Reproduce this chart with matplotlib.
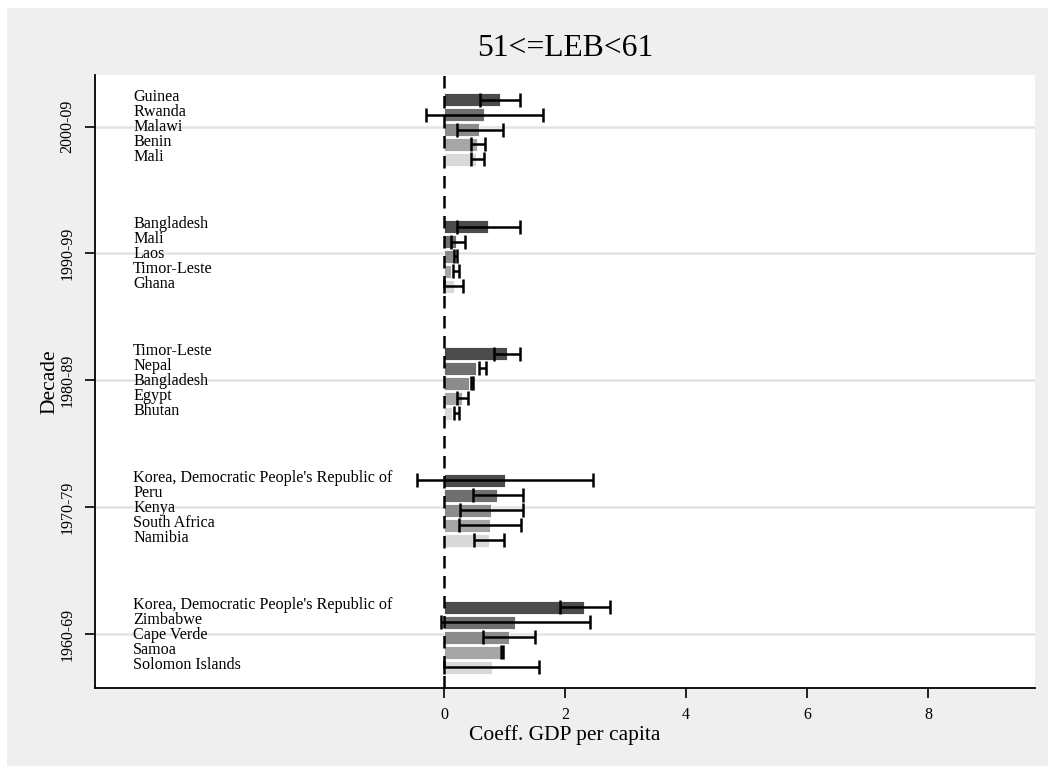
import matplotlib
matplotlib.use("Agg")
import matplotlib.pyplot as plt
import numpy as np
from matplotlib.patches import Rectangle

plt.rcParams["font.family"] = ["Liberation Serif", "DejaVu Serif"]

# decades, bottom to top
decades = ["1960-69", "1970-79", "1980-89", "1990-99", "2000-09"]

countries_1960 = ["Korea, Democratic People's Republic of", "Zimbabwe", "Cape Verde", "Samoa", "Solomon Islands"]
coef_1960 = [2.32, 1.18, 1.07, 0.93, 0.79]
lo_1960 = [1.91, -0.05, 0.64, 0.94, 0.00]
hi_1960 = [2.74, 2.41, 1.50, 0.97, 1.57]

countries_1970 = ["Korea, Democratic People's Republic of", "Peru", "Kenya", "South Africa", "Namibia"]
coef_1970 = [1.01, 0.88, 0.77, 0.76, 0.74]
lo_1970 = [-0.44, 0.48, 0.26, 0.24, 0.50]
hi_1970 = [2.47, 1.30, 1.30, 1.28, 0.99]

countries_1980 = ["Timor-Leste", "Nepal", "Bangladesh", "Egypt", "Bhutan"]
coef_1980 = [1.04, 0.53, 0.42, 0.29, 0.13]
lo_1980 = [0.82, 0.58, 0.44, 0.22, 0.16]
hi_1980 = [1.26, 0.70, 0.48, 0.40, 0.25]

countries_1990 = ["Bangladesh", "Mali", "Laos", "Timor-Leste", "Ghana"]
coef_1990 = [0.73, 0.20, 0.17, 0.11, 0.16]
lo_1990 = [0.22, 0.11, 0.17, 0.15, 0.00]
hi_1990 = [1.26, 0.35, 0.22, 0.25, 0.31]

countries_2000 = ["Guinea", "Rwanda", "Malawi", "Benin", "Mali"]
coef_2000 = [0.92, 0.66, 0.58, 0.55, 0.53]
lo_2000 = [0.60, -0.30, 0.22, 0.45, 0.44]
hi_2000 = [1.26, 1.63, 0.97, 0.68, 0.66]

groups = [
    (countries_1960, coef_1960, lo_1960, hi_1960),
    (countries_1970, coef_1970, lo_1970, hi_1970),
    (countries_1980, coef_1980, lo_1980, hi_1980),
    (countries_1990, coef_1990, lo_1990, hi_1990),
    (countries_2000, coef_2000, lo_2000, hi_2000),
]

shades = ["#4b4b4b", "#6f6f6f", "#8b8b8b", "#a6a6a6", "#d9d9d9"]

W, H = 1055, 773
fig = plt.figure(figsize=(W / 100, H / 100), dpi=100, facecolor="white")
fig.patches.append(Rectangle((7 / W, 7 / H), (1048 - 7) / W, (766 - 8) / H,
                             transform=fig.transFigure, facecolor="#efefef",
                             edgecolor="none", zorder=-10))
ax = fig.add_axes([95 / W, 1 - 688 / H, (1035 - 95) / W, (688 - 75) / H])
ax.set_facecolor("white")

spacing = 8.5
centers = np.arange(len(decades)) * spacing

for i, (names, coef, lo, hi) in enumerate(groups):
    for j in range(len(names)):
        y = centers[i] + 2 - j - 0.2
        ax.barh(y, coef[j], height=0.88, color=shades[j], edgecolor="white",
                linewidth=0.6, zorder=2)
        mid = (lo[j] + hi[j]) / 2
        half = (hi[j] - lo[j]) / 2
        ax.errorbar(mid, y, xerr=half, fmt="none", ecolor="black",
                    elinewidth=1.8, capsize=5, capthick=1.8, zorder=3)
        ax.text(-5.14, y + 0.15, names[j], ha="left", va="center",
                fontsize=11.6, zorder=4)

ax.axvline(0, color="black", lw=1.8, ls=(0, (5, 3)), zorder=4)

ax.set_xlim(-5.77, 9.77)
ax.set_ylim(-3.6, centers[-1] + 3.45)
ax.set_xticks([0, 2, 4, 6, 8])
ax.set_yticks(centers)
ax.set_yticklabels(decades, rotation=90, va="center", fontsize=11.5)
ax.tick_params(axis="x", labelsize=11.5, length=7, width=1.2, pad=6.5)
ax.tick_params(axis="y", length=7, width=1.2, pad=7)
ax.yaxis.grid(True, color="#e4e4e4", lw=1.8, zorder=0)
ax.set_axisbelow(True)

for s in ["top", "right"]:
    ax.spines[s].set_visible(False)
for s in ["left", "bottom"]:
    ax.spines[s].set_linewidth(1.3)

ax.set_xlabel("Coeff. GDP per capita", fontsize=15.5)
ax.xaxis.set_label_coords((565 - 95) / (1035 - 95), -0.061)
ax.set_ylabel("Decade", fontsize=15.5)
ax.yaxis.set_label_coords(-0.038, 0.5)
ax.set_title("51<=LEB<61", fontsize=22.8, pad=14)

fig.savefig("out.png", dpi=100, facecolor=fig.get_facecolor())
